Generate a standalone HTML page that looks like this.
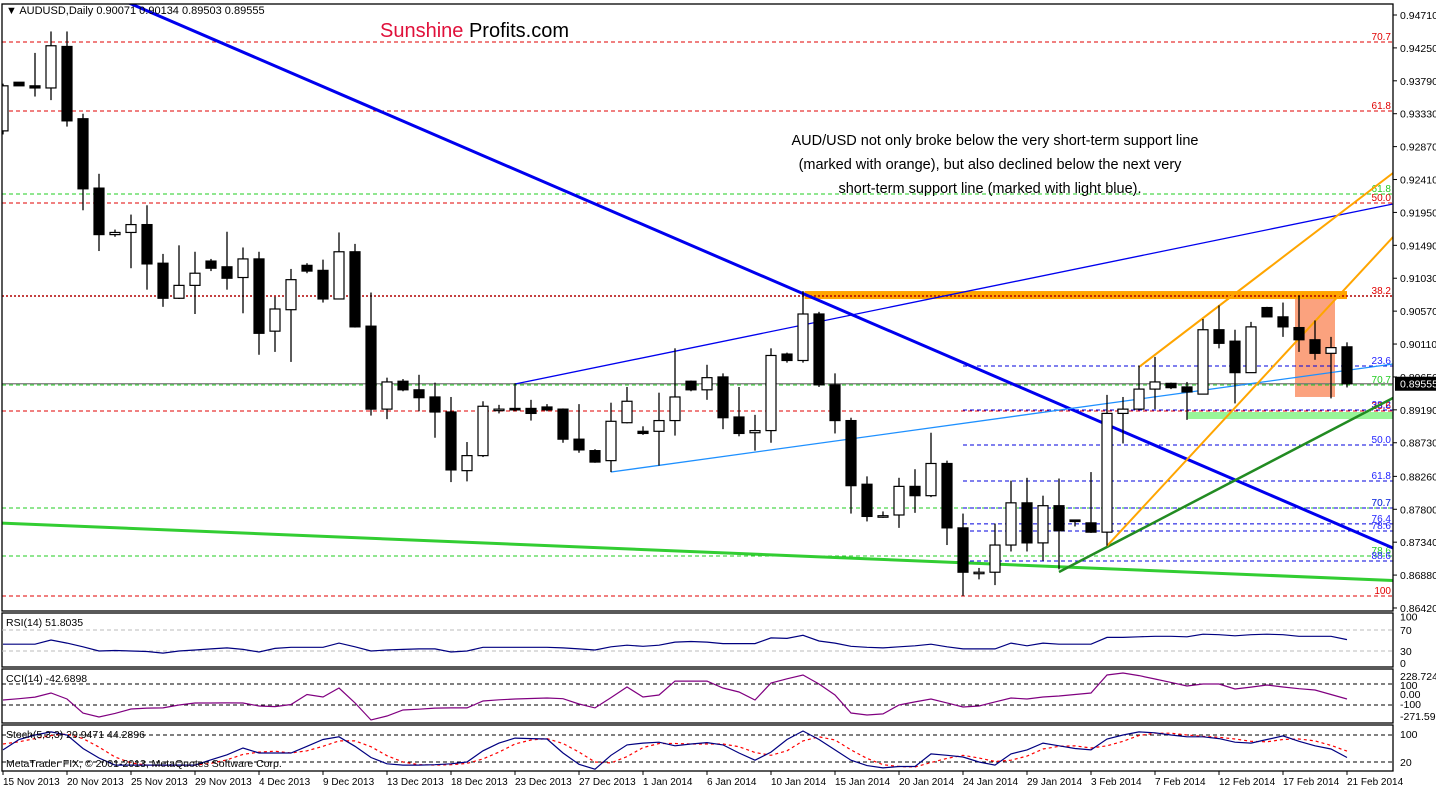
<!DOCTYPE html>
<html><head><meta charset="utf-8">
<style>
html,body{margin:0;padding:0;background:#fff;}
svg{display:block;font-family:"Liberation Sans",Arial,sans-serif;}
</style></head>
<body>
<svg id="chart" width="1436" height="789" viewBox="0 0 1436 789" xmlns="http://www.w3.org/2000/svg">
<defs>
<clipPath id="mainClip"><rect x="2" y="4" width="1391" height="607"/></clipPath>
</defs>
<rect x="0" y="0" width="1436" height="789" fill="#fff"/>
<g id="main" clip-path="url(#mainClip)"></g>
<g id="axes"></g>
<g id="subs"></g>
<text x="6" y="14" font-size="11" fill="#000">▼ AUDUSD,Daily  0.90071 0.90134 0.89503 0.89555</text>
<text x="380" y="37" font-size="20"><tspan fill="#e0103a">Sunshine</tspan><tspan fill="#000"> Profits.com</tspan></text>
<g font-size="14.5" fill="#000" text-anchor="middle">
<text x="995" y="145">AUD/USD not only broke below the very short-term support line</text>
<text x="990" y="169">(marked with orange), but also declined below the next very</text>
<text x="990" y="193">short-term support line (marked with light blue).</text>
</g>
</svg>
<script>
const opens=[.9309,.9377,.9372,.9369,.9427,.9326,.9229,.9164,.9167,.9178,.9124,.9075,.9093,.9127,.9119,.9104,.9130,.9029,.9059,.9121,.9114,.9074,.9140,.9036,.8920,.8959,.8947,.8937,.8916,.8834,.8855,.8920,.8921,.8921,.8923,.8920,.8878,.8862,.8848,.8901,.8889,.8889,.8904,.8959,.8947,.8965,.8909,.8887,.8890,.8997,.8988,.9053,.8954,.8904,.8815,.8771,.8772,.8812,.8799,.8844,.8754,.8692,.8692,.8730,.8789,.8733,.8785,.8765,.8761,.8748,.8914,.8920,.8948,.8956,.8951,.8941,.9031,.9015,.8971,.9062,.9049,.9034,.9017,.8998,.90071];
const highs=[.9375,.9377,.9418,.9448,.9448,.9333,.9249,.9171,.9192,.9205,.9137,.9149,.9140,.9130,.9168,.9146,.9140,.9077,.9116,.9124,.9129,.9167,.9151,.9083,.8964,.8962,.8968,.8957,.8937,.8874,.8931,.8926,.8956,.8933,.8927,.8921,.8927,.8864,.8929,.8951,.8896,.8943,.9005,.8960,.8982,.8970,.8951,.8912,.9005,.8999,.9085,.9056,.8970,.8908,.8826,.8777,.8824,.8836,.8887,.8848,.8774,.8698,.8760,.8820,.8824,.8799,.8823,.8765,.8832,.8940,.8937,.8981,.8993,.8957,.8958,.9046,.9065,.9031,.9042,.9063,.9069,.9079,.9044,.9021,.90134];
const lows=[.9304,.9372,.9357,.9352,.9315,.9198,.9141,.9161,.9117,.9087,.9063,.9074,.9053,.9113,.9087,.9054,.8996,.9000,.8986,.9110,.9069,.9074,.9034,.8911,.8906,.8945,.8917,.8880,.8818,.8819,.8853,.8914,.8917,.8904,.8917,.8873,.8859,.8845,.8832,.8900,.8884,.8841,.8883,.8945,.8933,.8892,.8882,.8862,.8873,.8985,.8985,.8951,.8886,.8774,.8763,.8768,.8754,.8775,.8797,.8730,.8659,.8682,.8674,.8721,.8721,.8708,.8696,.8756,.8747,.8729,.8872,.8920,.8920,.8948,.8905,.8941,.9005,.8928,.8971,.9049,.9021,.9000,.8989,.8935,.89503];
const closes=[.9372,.9372,.9369,.9428,.9323,.9228,.9164,.9167,.9178,.9123,.9075,.9093,.9110,.9117,.9103,.9130,.9026,.9060,.9101,.9113,.9074,.9140,.9035,.8920,.8958,.8947,.8936,.8916,.8835,.8855,.8924,.8920,.8919,.8914,.8919,.8878,.8863,.8846,.8903,.8931,.8886,.8904,.8937,.8947,.8964,.8908,.8886,.8890,.8995,.8988,.9053,.8954,.8904,.8813,.8770,.8771,.8812,.8799,.8844,.8754,.8692,.8692,.8730,.8789,.8733,.8785,.8750,.8763,.8748,.8914,.8920,.8948,.8958,.8950,.8944,.9031,.9012,.8971,.9035,.9049,.9035,.9017,.8998,.9006,.89555];
const rsiValues=[43,43,43,51,45,38,30,31,30,29,26,30,32,34,36,33,28,35,37,37,37,45,38,30,32,33,34,34,28,30,37,37,37,37,37,36,34,32,38,41,39,41,47,48,47,44,44,44,55,54,60,49,45,39,37,36,38,40,43,38,34,34,34,45,40,45,43,43,43,56,56,57,58,58,57,62,61,59,61,62,61,58,58,58,51.8035];
const cciValues=[-52,-40,-25,14,-43,-177,-214,-180,-138,-130,-128,-100,-81,-81,-80,-81,-110,-115,-95,0,-24,62,-80,-243,-205,-148,-140,-130,-128,-128,-62,-50,-43,-38,-33,-40,-90,-128,-30,71,-24,-5,128,128,128,62,24,-52,110,150,186,100,-5,-176,-195,-185,-100,-70,-43,-80,-119,-110,-70,-33,-43,-24,-14,0,14,186,205,180,148,115,81,100,100,52,70,90,71,55,43,0,-42.6898];
const stochMain=[47,70,80,87,80,50,29,13,13,13,13,13,13,25,36,51,40,40,40,55,70,76,55,30,16,13,13,14,16,20,45,62,73,72,71,40,15,4,35,58,62,64,56,60,63,58,40,24,42,70,89,70,47,24,12,7,10,10,38,35,31,20,13,38,47,62,56,50,47,71,80,87,85,80,76,76,72,64,62,70,78,66,56,49,29.9471];
const stochSignal=[60,65,72,79,82,72,53,31,18,13,13,13,13,17,25,37,42,44,40,45,55,67,67,54,34,20,14,13,14,17,27,42,60,69,72,61,42,20,18,32,52,61,61,60,60,60,54,41,35,45,67,76,69,47,28,14,10,9,19,28,35,29,21,24,33,49,55,56,51,56,66,79,84,84,80,77,75,71,66,65,70,71,67,57,44.2896];
const priceTicks=[0.94710,0.94250,0.93790,0.93330,0.92870,0.92410,0.91950,0.91490,0.91030,0.90570,0.90110,0.89650,0.89190,0.88730,0.88260,0.87800,0.87340,0.86880,0.86420];
const dateLabels=["15 Nov 2013","20 Nov 2013","25 Nov 2013","29 Nov 2013","4 Dec 2013","9 Dec 2013","13 Dec 2013","18 Dec 2013","23 Dec 2013","27 Dec 2013","1 Jan 2014","6 Jan 2014","10 Jan 2014","15 Jan 2014","20 Jan 2014","24 Jan 2014","29 Jan 2014","3 Feb 2014","7 Feb 2014","12 Feb 2014","17 Feb 2014","21 Feb 2014"];
const redLevels=[0.94333,0.93368,0.92082,0.89174,0.86588];
const redLabels=["70.7","61.8","50.0","23.6","100"];
const greenLevels=[0.92208,0.89538,0.87818,0.87147];
const greenLabels=["61.8","70.7","70.7","78.6"];
const blueLevels=[0.89803,0.89188,0.88699,0.88196,0.87818,0.87595,0.87497,0.87077];
const blueLabels=["23.6","38.2","50.0","61.8","70.7","76.4","78.6","88.6"];
const resistanceLevel=0.90782;
const lastPrice=0.89555;

const NS="http://www.w3.org/2000/svg";
const X=i=>3+16*i;
const Y=p=>15+(0.9471-p)*7153;
const main=document.getElementById('main');
const axes=document.getElementById('axes');
const subs=document.getElementById('subs');
function mk(tag,attrs,parent){const e=document.createElementNS(NS,tag);for(const k in attrs)e.setAttribute(k,attrs[k]);parent.appendChild(e);return e;}

let r=mk('rect',{x:X(81)-4,y:Y(0.90782),width:X(83)-X(81)+8,height:Y(0.8937)-Y(0.90782),fill:'#fba27e'},main);


r=mk('rect',{x:X(74),y:Y(0.8916),width:1393-X(74),height:Y(0.89062)-Y(0.8916),fill:'#98f598'},main);



function hline(p,color,x0,name,dash,w){const l=mk('line',{x1:x0,x2:1393,y1:Y(p),y2:Y(p),stroke:color,'stroke-width':w||1,'stroke-dasharray':dash||'4,3'},main);

return l;}
function lvlLabel(p,t,color){const e=mk('text',{x:1391,y:Y(p)-2,'text-anchor':'end','font-size':10,fill:color},main);e.textContent=t;

}
redLevels.forEach((p,k)=>{hline(p,'#e00000',2,'red-fib-level');lvlLabel(p,redLabels[k],'#e00000');});
greenLevels.forEach((p,k)=>{hline(p,'#22cc22',2,'green-fib-level');lvlLabel(p,greenLabels[k],'#22cc22');});
blueLevels.forEach((p,k)=>{hline(p,'#0000dd',X(60),'blue-fib-level');lvlLabel(p,blueLabels[k],'#2222ff');});
hline(lastPrice,'#777',2,'current-price-line','none',1.2);
r=mk('rect',{x:X(50.1),y:Y(0.90851),width:X(84)-X(50.1),height:Y(0.90739)-Y(0.90851),fill:'#ffa500'},main);


hline(resistanceLevel,'#b00000',2,'resistance-dotted-line','2,2',1.5);
lvlLabel(resistanceLevel,'38.2','#e00000');

function tline(i0,p0,i1,p1,color,w,name){const l=mk('line',{x1:X(i0),y1:Y(p0),x2:X(i1),y2:Y(p1),stroke:color,'stroke-width':w},main);

}
tline(-0.1875,0.87608,86.875,0.86804,'#32cd32',3,'long-term-green-support');
tline(7.875,0.94878,86.875,0.87259,'#0000ee',3,'declining-blue-resistance');
tline(32,0.89551,86.875,0.92068,'#0000ee',1.3,'rising-blue-line');
tline(38,0.88321,86.875,0.89831,'#1e90ff',1.3,'light-blue-support');
tline(66,0.86923,86.875,0.89356,'#228b22',2.5,'dark-green-support');
tline(71,0.89789,86.875,0.92501,'#ffa500',2,'orange-channel-upper');
tline(69,0.87287,86.875,0.91606,'#ffa500',2,'orange-support-line');

for(let i=0;i<opens.length;i++){
  const g=mk('g',{},main);
  
  
  const x=X(i);
  mk('line',{x1:x,x2:x,y1:Y(highs[i]),y2:Y(lows[i]),stroke:'#000','stroke-width':1.3},g);
  const up=closes[i]>=opens[i];
  const top=Y(Math.max(opens[i],closes[i])),bot=Y(Math.min(opens[i],closes[i]));
  mk('rect',{x:x-5,y:top,width:10,height:Math.max(bot-top,1.5),fill:up?'#fff':'#000',stroke:'#000','stroke-width':1.2},g);
}

function frame(y0,y1,name){const f=mk('rect',{x:2,y:y0,width:1391,height:y1-y0,fill:'none',stroke:'#000','stroke-width':1.3},axes);

}
frame(4,611,'price-panel-frame');frame(613,667,'rsi-panel-frame');frame(669,723,'cci-panel-frame');frame(725,771,'stoch-panel-frame');

priceTicks.forEach(p=>{mk('line',{x1:1393,x2:1397,y1:Y(p),y2:Y(p),stroke:'#000'},axes);
const t=mk('text',{x:1400,y:Y(p)+4,'font-size':10.5,fill:'#000'},axes);t.textContent=p.toFixed(5);

});
let pb=mk('rect',{x:1395,y:Y(lastPrice)-7,width:41,height:14,fill:'#000'},axes);


let pt=mk('text',{x:1400,y:Y(lastPrice)+4,'font-size':10.5,fill:'#fff'},axes);pt.textContent=lastPrice.toFixed(5);



dateLabels.forEach((d,k)=>{const x=X(4*k);mk('line',{x1:x,x2:x,y1:771,y2:775,stroke:'#000'},axes);
const t=mk('text',{x:x,y:785,'font-size':10,fill:'#000'},axes);t.textContent=d;

});

function series(vals,yf,color,w,dash,name){let d='';vals.forEach((v,i)=>{d+=(i?'L':'M')+X(i)+','+yf(v).toFixed(1);});
const p=mk('path',{d:d,fill:'none',stroke:color,'stroke-width':w,'stroke-dasharray':dash||'none'},subs);

}
function sline(y,color,name){const l=mk('line',{x1:2,x2:1393,y1:y,y2:y,stroke:color,'stroke-dasharray':'4,3'},subs);

}
function slab(x,y,t,name){const e=mk('text',{x:x,y:y,'font-size':10.5,fill:'#000'},subs);e.textContent=t;

}
const YR=v=>666.75-v*0.525, YC=v=>694.5-v*0.105, YS=v=>771-v*0.45;
sline(YR(70),'#bbb','rsi-70-level');sline(YR(30),'#bbb','rsi-30-level');
series(rsiValues,YR,'#000080',1.2,null,'rsi-line');
slab(6,626,'RSI(14) 51.8035','rsi-title');
slab(1400,YR(100)+6,'100','rsi-axis-label');slab(1400,YR(70)+4,'70','rsi-axis-label');slab(1400,YR(30)+4,'30','rsi-axis-label');slab(1400,YR(0),'0','rsi-axis-label');
sline(YC(100),'#000','cci-plus100-level');sline(YC(-100),'#000','cci-minus100-level');
series(cciValues,YC,'#800080',1.2,null,'cci-line');
slab(6,682,'CCI(14) -42.6898','cci-title');
slab(1400,680,'228.7249','cci-axis-label');slab(1400,689,'100','cci-axis-label');slab(1400,698,'0.00','cci-axis-label');slab(1400,708,'-100','cci-axis-label');slab(1400,720,'-271.5922','cci-axis-label');
sline(YS(80),'#000','stoch-80-level');sline(YS(20),'#000','stoch-20-level');
series(stochSignal,YS,'#ff0000',1.2,'3,3','stoch-signal-line');
series(stochMain,YS,'#000080',1.2,null,'stoch-main-line');
slab(6,738,'Stoch(5,3,3) 29.9471 44.2896','stoch-title');
slab(6,767,'MetaTrader FIX, © 2001-2013, MetaQuotes Software Corp.','copyright');
slab(1400,738,'100','stoch-axis-label');slab(1400,766,'20','stoch-axis-label');
</script>
</body></html>
